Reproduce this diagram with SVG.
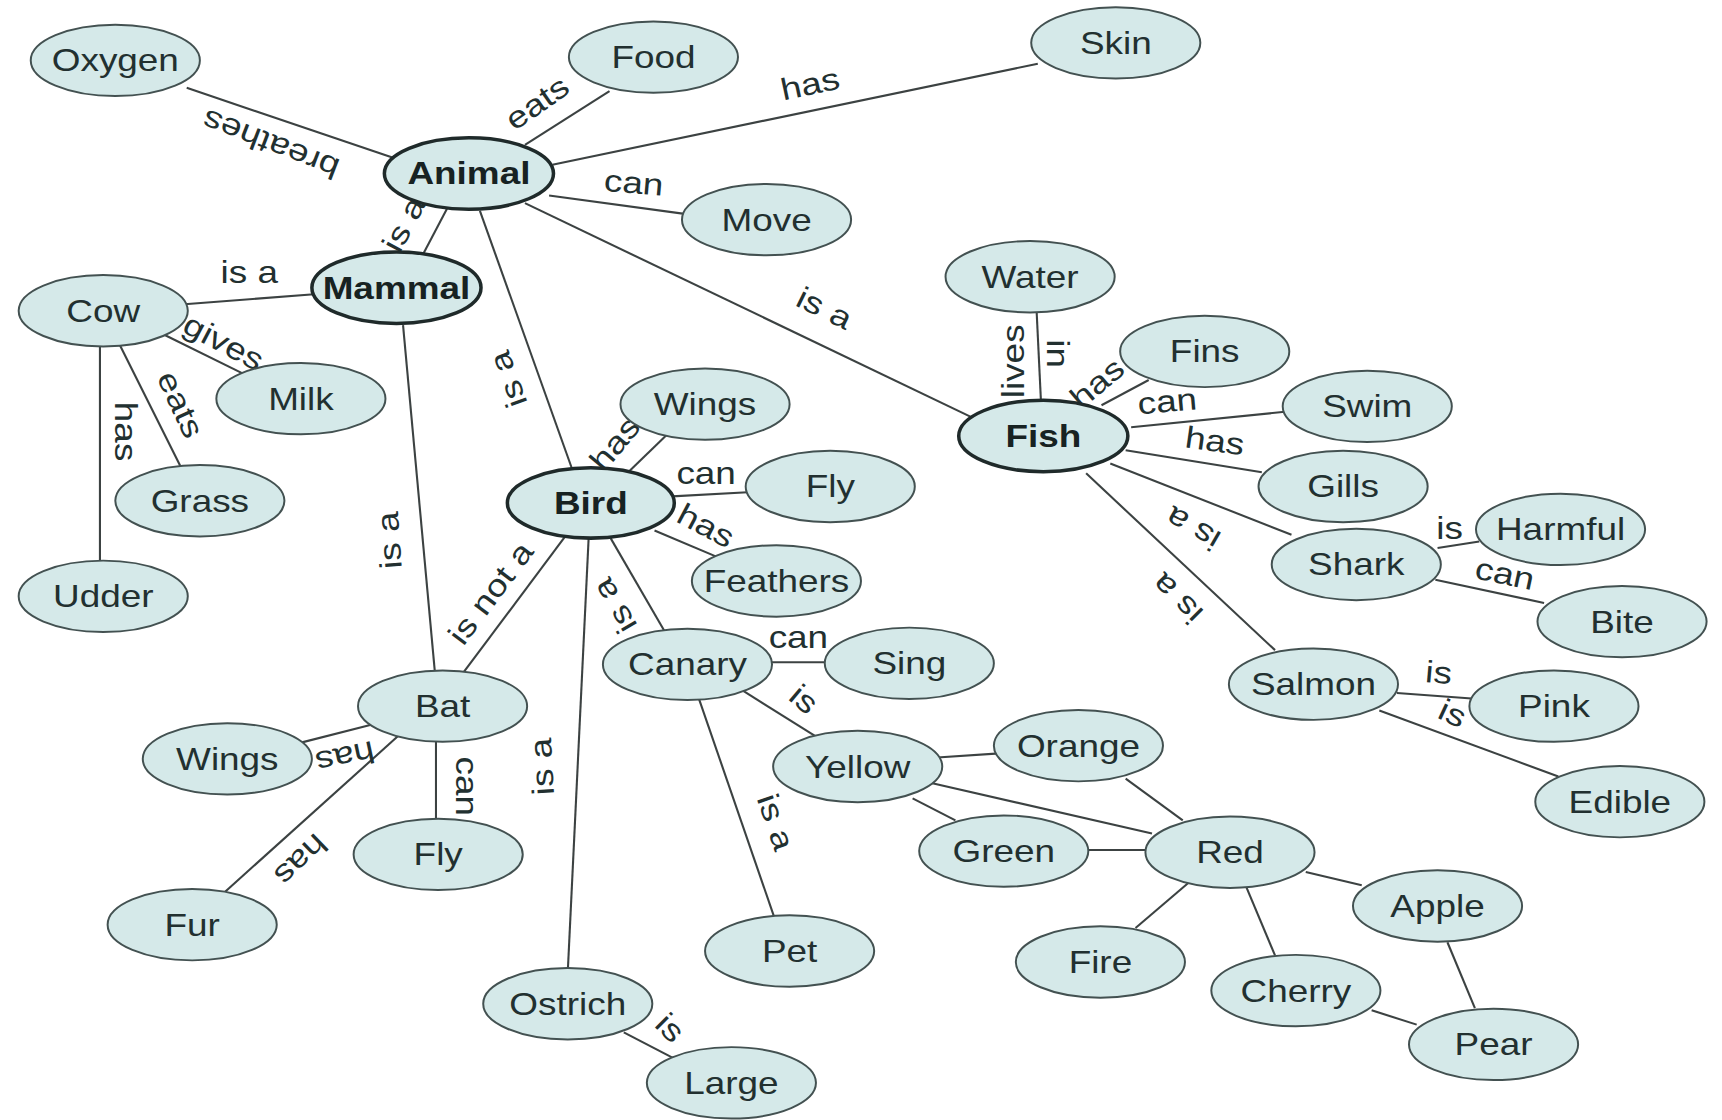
<svg xmlns="http://www.w3.org/2000/svg" width="1722" height="1120" viewBox="0 0 1722 1120">
  <style>
    .node ellipse { fill: #d5e9e9; stroke: #435151; stroke-width: 1.8; }
    .node.key ellipse { stroke: #1f2a2a; stroke-width: 3.2; }
    .node text, .lbl { font-family: "Liberation Sans", Arial, sans-serif; font-size: 28px; fill: #223030; text-anchor: middle; }
    .node.key text { font-weight: bold; fill: #172222; }
    #connectors line { stroke: #3c4242; stroke-width: 1.9; }
  </style>
  <rect width="1722" height="1120" fill="#ffffff"/>
  <g transform="scale(1.0982)">
    <g id="connectors">
      <line x1="170" y1="80" x2="362" y2="145"/>
      <line x1="478" y1="132" x2="555" y2="83"/>
      <line x1="503" y1="150" x2="945" y2="58"/>
      <line x1="500" y1="178" x2="625" y2="195"/>
      <line x1="478" y1="185" x2="885" y2="380"/>
      <line x1="407" y1="190" x2="385" y2="232"/>
      <line x1="437" y1="192" x2="522" y2="430"/>
      <line x1="168" y1="277" x2="286" y2="268"/>
      <line x1="367" y1="296" x2="396" y2="612"/>
      <line x1="150" y1="305" x2="225" y2="342"/>
      <line x1="109" y1="314" x2="166" y2="428"/>
      <line x1="91" y1="315" x2="91" y2="512"/>
      <line x1="572" y1="430" x2="607" y2="396"/>
      <line x1="612" y1="452" x2="685" y2="448"/>
      <line x1="596" y1="483" x2="655" y2="508"/>
      <line x1="556" y1="490" x2="607" y2="578"/>
      <line x1="515" y1="488" x2="420" y2="615"/>
      <line x1="536" y1="490" x2="517" y2="885"/>
      <line x1="700" y1="603" x2="755" y2="603"/>
      <line x1="675" y1="628" x2="745" y2="672"/>
      <line x1="636" y1="635" x2="706" y2="838"/>
      <line x1="568" y1="940" x2="618" y2="966"/>
      <line x1="275" y1="676" x2="338" y2="660"/>
      <line x1="365" y1="668" x2="205" y2="812"/>
      <line x1="397" y1="675" x2="397" y2="748"/>
      <line x1="944" y1="285" x2="948" y2="368"/>
      <line x1="1003" y1="369" x2="1046" y2="346"/>
      <line x1="1030" y1="389" x2="1170" y2="375"/>
      <line x1="1025" y1="410" x2="1149" y2="430"/>
      <line x1="1011" y1="422" x2="1176" y2="487"/>
      <line x1="989" y1="431" x2="1161" y2="592"/>
      <line x1="1309" y1="499" x2="1347" y2="493"/>
      <line x1="1307" y1="528" x2="1406" y2="549"/>
      <line x1="1272" y1="631" x2="1340" y2="636"/>
      <line x1="1256" y1="647" x2="1419" y2="707"/>
      <line x1="850" y1="690" x2="910" y2="686"/>
      <line x1="848" y1="713" x2="1049" y2="759"/>
      <line x1="831" y1="727" x2="870" y2="747"/>
      <line x1="1025" y1="709" x2="1077" y2="747"/>
      <line x1="989" y1="774" x2="1045" y2="774"/>
      <line x1="1082" y1="804" x2="1034" y2="845"/>
      <line x1="1135" y1="808" x2="1161" y2="870"/>
      <line x1="1189" y1="794" x2="1240" y2="806"/>
      <line x1="1318" y1="858" x2="1343" y2="918"/>
      <line x1="1249" y1="920" x2="1290" y2="933"/>
    </g>

    <g id="link-labels">
      <text class="lbl" transform="translate(247,130) rotate(201) scale(1.2,1)" y="8">breathes</text>
      <text class="lbl" transform="translate(490,95) rotate(-35) scale(1.2,1)" y="8">eats</text>
      <text class="lbl" transform="translate(738,78) rotate(-12) scale(1.2,1)" y="8">has</text>
      <text class="lbl" transform="translate(577,168) rotate(5) scale(1.2,1)" y="8">can</text>
      <text class="lbl" transform="translate(750,282) rotate(26) scale(1.2,1)" y="8">is a</text>
      <text class="lbl" transform="translate(369,205) rotate(-62) scale(1.2,1)" y="8">is a</text>
      <text class="lbl" transform="translate(464,345) rotate(-110) scale(1.2,1)" y="8">is a</text>
      <text class="lbl" transform="translate(227,250) scale(1.2,1)" y="8">is a</text>
      <text class="lbl" transform="translate(356,492) rotate(-94) scale(1.2,1)" y="8">is a</text>
      <text class="lbl" transform="translate(203,313) rotate(28) scale(1.2,1)" y="8">gives</text>
      <text class="lbl" transform="translate(163,369) rotate(65) scale(1.2,1)" y="8">eats</text>
      <text class="lbl" transform="translate(113,393) rotate(90) scale(1.2,1)" y="8">has</text>
      <text class="lbl" transform="translate(561,405) rotate(-50) scale(1.2,1)" y="8">has</text>
      <text class="lbl" transform="translate(643,433) scale(1.2,1)" y="8">can</text>
      <text class="lbl" transform="translate(642,480) rotate(28) scale(1.2,1)" y="8">has</text>
      <text class="lbl" transform="translate(561,551) rotate(-120) scale(1.2,1)" y="8">is a</text>
      <text class="lbl" transform="translate(448,541) rotate(-53) scale(1.2,1)" y="8">is not a</text>
      <text class="lbl" transform="translate(495,698) rotate(-93) scale(1.2,1)" y="8">is a</text>
      <text class="lbl" transform="translate(727,582) scale(1.2,1)" y="8">can</text>
      <text class="lbl" transform="translate(731,638) rotate(40) scale(1.2,1)" y="8">is</text>
      <text class="lbl" transform="translate(705,749) rotate(71) scale(1.2,1)" y="8">is a</text>
      <text class="lbl" transform="translate(609,937) rotate(45) scale(1.2,1)" y="8">is</text>
      <text class="lbl" transform="translate(314,688) rotate(168) scale(1.2,1)" y="8">has</text>
      <text class="lbl" transform="translate(273,782) rotate(136) scale(1.2,1)" y="8">has</text>
      <text class="lbl" transform="translate(423,716) rotate(90) scale(1.2,1)" y="8">can</text>
      <text class="lbl" transform="translate(924,329) rotate(-90) scale(1.2,1)" y="8">lives</text>
      <text class="lbl" transform="translate(961,322) rotate(90) scale(1.2,1)" y="8">in</text>
      <text class="lbl" transform="translate(1000,350) rotate(-40) scale(1.2,1)" y="8">has</text>
      <text class="lbl" transform="translate(1063,367) rotate(-5) scale(1.2,1)" y="8">can</text>
      <text class="lbl" transform="translate(1106,403) rotate(8) scale(1.2,1)" y="8">has</text>
      <text class="lbl" transform="translate(1087,480) rotate(210) scale(1.2,1)" y="8">is a</text>
      <text class="lbl" transform="translate(1073,544) rotate(225) scale(1.2,1)" y="8">is a</text>
      <text class="lbl" transform="translate(1320,483) scale(1.2,1)" y="8">is</text>
      <text class="lbl" transform="translate(1370,524) rotate(12) scale(1.2,1)" y="8">can</text>
      <text class="lbl" transform="translate(1310,614) rotate(5) scale(1.2,1)" y="8">is</text>
      <text class="lbl" transform="translate(1322,651) rotate(25) scale(1.2,1)" y="8">is</text>
    </g>

    <g id="nodes">
      <g id="n-oxygen" class="node"><ellipse cx="105" cy="55" rx="77" ry="32.5"/><text transform="translate(105,65) scale(1.2,1)">Oxygen</text></g>
      <g id="n-food" class="node"><ellipse cx="595" cy="52" rx="77" ry="32.5"/><text transform="translate(595,62) scale(1.2,1)">Food</text></g>
      <g id="n-skin" class="node"><ellipse cx="1016" cy="39" rx="77" ry="32.5"/><text transform="translate(1016,49) scale(1.2,1)">Skin</text></g>
      <g id="n-animal" class="node key"><ellipse cx="427" cy="158" rx="77" ry="32.5"/><text transform="translate(427,168) scale(1.2,1)">Animal</text></g>
      <g id="n-move" class="node"><ellipse cx="698" cy="200" rx="77" ry="32.5"/><text transform="translate(698,210) scale(1.2,1)">Move</text></g>
      <g id="n-mammal" class="node key"><ellipse cx="361" cy="262" rx="77" ry="32.5"/><text transform="translate(361,272) scale(1.2,1)">Mammal</text></g>
      <g id="n-cow" class="node"><ellipse cx="94" cy="283" rx="77" ry="32.5"/><text transform="translate(94,293) scale(1.2,1)">Cow</text></g>
      <g id="n-milk" class="node"><ellipse cx="274" cy="363" rx="77" ry="32.5"/><text transform="translate(274,373) scale(1.2,1)">Milk</text></g>
      <g id="n-grass" class="node"><ellipse cx="182" cy="456" rx="77" ry="32.5"/><text transform="translate(182,466) scale(1.2,1)">Grass</text></g>
      <g id="n-udder" class="node"><ellipse cx="94" cy="543" rx="77" ry="32.5"/><text transform="translate(94,553) scale(1.2,1)">Udder</text></g>
      <g id="n-water" class="node"><ellipse cx="938" cy="252" rx="77" ry="32.5"/><text transform="translate(938,262) scale(1.2,1)">Water</text></g>
      <g id="n-fins" class="node"><ellipse cx="1097" cy="320" rx="77" ry="32.5"/><text transform="translate(1097,330) scale(1.2,1)">Fins</text></g>
      <g id="n-swim" class="node"><ellipse cx="1245" cy="370" rx="77" ry="32.5"/><text transform="translate(1245,380) scale(1.2,1)">Swim</text></g>
      <g id="n-fish" class="node key"><ellipse cx="950" cy="397" rx="77" ry="32.5"/><text transform="translate(950,407) scale(1.2,1)">Fish</text></g>
      <g id="n-gills" class="node"><ellipse cx="1223" cy="443" rx="77" ry="32.5"/><text transform="translate(1223,453) scale(1.2,1)">Gills</text></g>
      <g id="n-harmful" class="node"><ellipse cx="1421" cy="482" rx="77" ry="32.5"/><text transform="translate(1421,492) scale(1.2,1)">Harmful</text></g>
      <g id="n-shark" class="node"><ellipse cx="1235" cy="514" rx="77" ry="32.5"/><text transform="translate(1235,524) scale(1.2,1)">Shark</text></g>
      <g id="n-bite" class="node"><ellipse cx="1477" cy="566" rx="77" ry="32.5"/><text transform="translate(1477,576) scale(1.2,1)">Bite</text></g>
      <g id="n-salmon" class="node"><ellipse cx="1196" cy="623" rx="77" ry="32.5"/><text transform="translate(1196,633) scale(1.2,1)">Salmon</text></g>
      <g id="n-pink" class="node"><ellipse cx="1415" cy="643" rx="77" ry="32.5"/><text transform="translate(1415,653) scale(1.2,1)">Pink</text></g>
      <g id="n-edible" class="node"><ellipse cx="1475" cy="730" rx="77" ry="32.5"/><text transform="translate(1475,740) scale(1.2,1)">Edible</text></g>
      <g id="n-bird-wings" class="node"><ellipse cx="642" cy="368" rx="77" ry="32.5"/><text transform="translate(642,378) scale(1.2,1)">Wings</text></g>
      <g id="n-bird-fly" class="node"><ellipse cx="756" cy="443" rx="77" ry="32.5"/><text transform="translate(756,453) scale(1.2,1)">Fly</text></g>
      <g id="n-bird" class="node key"><ellipse cx="538" cy="458" rx="76" ry="32"/><text transform="translate(538,468) scale(1.2,1)">Bird</text></g>
      <g id="n-feathers" class="node"><ellipse cx="707" cy="529" rx="77" ry="32.5"/><text transform="translate(707,539) scale(1.2,1)">Feathers</text></g>
      <g id="n-canary" class="node"><ellipse cx="626" cy="605" rx="77" ry="32.5"/><text transform="translate(626,615) scale(1.2,1)">Canary</text></g>
      <g id="n-sing" class="node"><ellipse cx="828" cy="604" rx="77" ry="32.5"/><text transform="translate(828,614) scale(1.2,1)">Sing</text></g>
      <g id="n-bat" class="node"><ellipse cx="403" cy="643" rx="77" ry="32.5"/><text transform="translate(403,653) scale(1.2,1)">Bat</text></g>
      <g id="n-bat-wings" class="node"><ellipse cx="207" cy="691" rx="77" ry="32.5"/><text transform="translate(207,701) scale(1.2,1)">Wings</text></g>
      <g id="n-bat-fly" class="node"><ellipse cx="399" cy="778" rx="77" ry="32.5"/><text transform="translate(399,788) scale(1.2,1)">Fly</text></g>
      <g id="n-fur" class="node"><ellipse cx="175" cy="842" rx="77" ry="32.5"/><text transform="translate(175,852) scale(1.2,1)">Fur</text></g>
      <g id="n-yellow" class="node"><ellipse cx="781" cy="698" rx="77" ry="32.5"/><text transform="translate(781,708) scale(1.2,1)">Yellow</text></g>
      <g id="n-orange" class="node"><ellipse cx="982" cy="679" rx="77" ry="32.5"/><text transform="translate(982,689) scale(1.2,1)">Orange</text></g>
      <g id="n-green" class="node"><ellipse cx="914" cy="775" rx="77" ry="32.5"/><text transform="translate(914,785) scale(1.2,1)">Green</text></g>
      <g id="n-red" class="node"><ellipse cx="1120" cy="776" rx="77" ry="32.5"/><text transform="translate(1120,786) scale(1.2,1)">Red</text></g>
      <g id="n-apple" class="node"><ellipse cx="1309" cy="825" rx="77" ry="32.5"/><text transform="translate(1309,835) scale(1.2,1)">Apple</text></g>
      <g id="n-pet" class="node"><ellipse cx="719" cy="866" rx="77" ry="32.5"/><text transform="translate(719,876) scale(1.2,1)">Pet</text></g>
      <g id="n-fire" class="node"><ellipse cx="1002" cy="876" rx="77" ry="32.5"/><text transform="translate(1002,886) scale(1.2,1)">Fire</text></g>
      <g id="n-cherry" class="node"><ellipse cx="1180" cy="902" rx="77" ry="32.5"/><text transform="translate(1180,912) scale(1.2,1)">Cherry</text></g>
      <g id="n-pear" class="node"><ellipse cx="1360" cy="951" rx="77" ry="32.5"/><text transform="translate(1360,961) scale(1.2,1)">Pear</text></g>
      <g id="n-ostrich" class="node"><ellipse cx="517" cy="914" rx="77" ry="32.5"/><text transform="translate(517,924) scale(1.2,1)">Ostrich</text></g>
      <g id="n-large" class="node"><ellipse cx="666" cy="986" rx="77" ry="32.5"/><text transform="translate(666,996) scale(1.2,1)">Large</text></g>
    </g>
  </g>
</svg>
